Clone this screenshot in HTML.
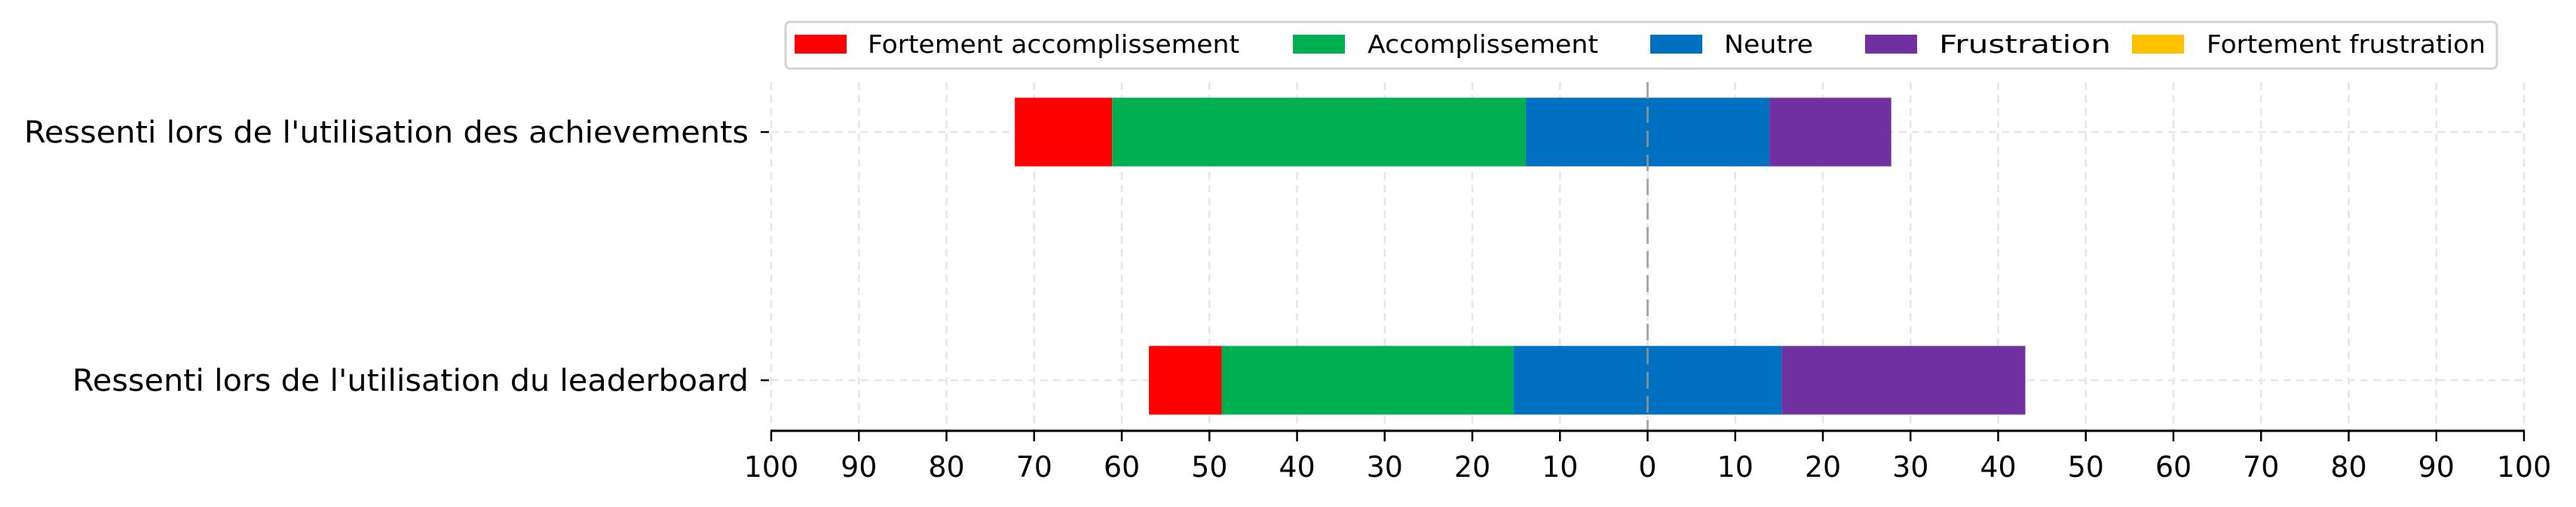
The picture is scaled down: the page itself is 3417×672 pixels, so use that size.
<!DOCTYPE html>
<html><head><meta charset="utf-8">
<style>
html,body{margin:0;padding:0;background:#fff;}
svg{display:block;font-family:"DejaVu Sans","Liberation Sans",sans-serif;}
</style></head>
<body>
<svg id="chart" width="3417" height="672" viewBox="0 0 3417 672" xmlns="http://www.w3.org/2000/svg">
<g id="grid"></g>
<g id="bars"></g>
<g id="axes"></g>
<g id="legend">
  <rect x="1042" y="29" width="2270" height="62" rx="6" fill="#fff" stroke="#d3d3d3" stroke-width="3"/>
</g>
</svg>
<script>
const categories = ["Ressenti lors de l'utilisation des achievements", "Ressenti lors de l'utilisation du leaderboard"];
const seriesNames = ["Fortement accomplissement", "Accomplissement", "Neutre", "Frustration", "Fortement frustration"];
const strongAccomplishment = [11.1, 8.3];
const accomplishment = [47.2, 33.3];
const neutral = [27.8, 30.6];
const frustration = [13.9, 27.8];
const strongFrustration = [0, 0];
const tickValues = [-100,-90,-80,-70,-60,-50,-40,-30,-20,-10,0,10,20,30,40,50,60,70,80,90,100];
const tickLabels = ["100","90","80","70","60","50","40","30","20","10","0","10","20","30","40","50","60","70","80","90","100"];

const colors = ["#FF0000","#00B050","#0070C0","#7030A0","#FFC000"];
const NS = "http://www.w3.org/2000/svg";
const X0 = 1023, X1 = 3348;
const xScale = v => X0 + (v + 100) / 200 * (X1 - X0);
const yCenters = [175, 504];
const yScale = i => yCenters[0] + i * (yCenters[1] - yCenters[0]);
const barH = 91, plotTop = 109, axisY = 571;

function mk(tag, attrs, parent){ const e=document.createElementNS(NS,tag); for(const k in attrs) e.setAttribute(k,attrs[k]); parent.appendChild(e); return e; }
const grid=document.getElementById('grid'), bars=document.getElementById('bars'), axes=document.getElementById('axes'), legend=document.getElementById('legend');

tickValues.forEach((v)=>{
  const l=mk('line',{x1:xScale(v),x2:xScale(v),y1:plotTop,y2:axisY,stroke:'#e6e6e6','stroke-width':2.5,'stroke-dasharray':'10,7'},grid);
  
  
});
categories.forEach((c,i)=>{
  const l=mk('line',{x1:X0,x2:X1,y1:yScale(i),y2:yScale(i),stroke:'#e6e6e6','stroke-width':2.5,'stroke-dasharray':'10,7'},grid);
  
  
});

const series=[strongAccomplishment,accomplishment,neutral,frustration,strongFrustration];
categories.forEach((c,i)=>{
  let start = -(series[0][i]+series[1][i]+series[2][i]/2);
  series.forEach((s,k)=>{
    const v=s[i];
    if(v>0){
      const r=mk('rect',{x:xScale(start),y:yScale(i)-barH/2,width:xScale(start+v)-xScale(start),height:barH,fill:colors[k]},bars);
      
      
    }
    start+=v;
  });
});

const z=mk('line',{x1:xScale(0),x2:xScale(0),y1:plotTop,y2:axisY,stroke:'#999','stroke-width':3,'stroke-dasharray':'22,10','stroke-opacity':0.8},axes);



const ax=mk('line',{x1:X0-1,x2:X1+1,y1:axisY,y2:axisY,stroke:'#000','stroke-width':3},axes);


tickValues.forEach((v,j)=>{
  const t=mk('line',{x1:xScale(v),x2:xScale(v),y1:axisY,y2:axisY+14,stroke:'#000','stroke-width':2.5},axes);
  
  
  const tx=mk('text',{x:xScale(v),y:632,'font-size':38,'text-anchor':'middle',fill:'#000'},axes);
  tx.textContent=tickLabels[j];
  
  
});
const labelWidths=[961,897];
categories.forEach((c,i)=>{
  const t=mk('line',{x1:X0-14,x2:X0-3,y1:yScale(i),y2:yScale(i),stroke:'#000','stroke-width':2.5},axes);
  
  
  const tx=mk('text',{x:993,y:yScale(i)+14,'font-size':40,'text-anchor':'end',fill:'#000',textLength:labelWidths[i],lengthAdjust:'spacingAndGlyphs'},axes);
  tx.textContent=c;
  
  
});

const patchX=[1054,1715,2189,2474,2828];
const textX=[1151,1814,2287,2572,2927];
const textW=[493,306,118,228,370];
seriesNames.forEach((n,k)=>{
  const p=mk('rect',{x:patchX[k],y:46,width:69,height:25,fill:colors[k]},legend);
  
  
  const t=mk('text',{x:textX[k],y:70,'font-size':33,fill:'#000',textLength:textW[k],lengthAdjust:'spacingAndGlyphs'},legend);
  t.textContent=n;
  
  
});
</script>
</body></html>
